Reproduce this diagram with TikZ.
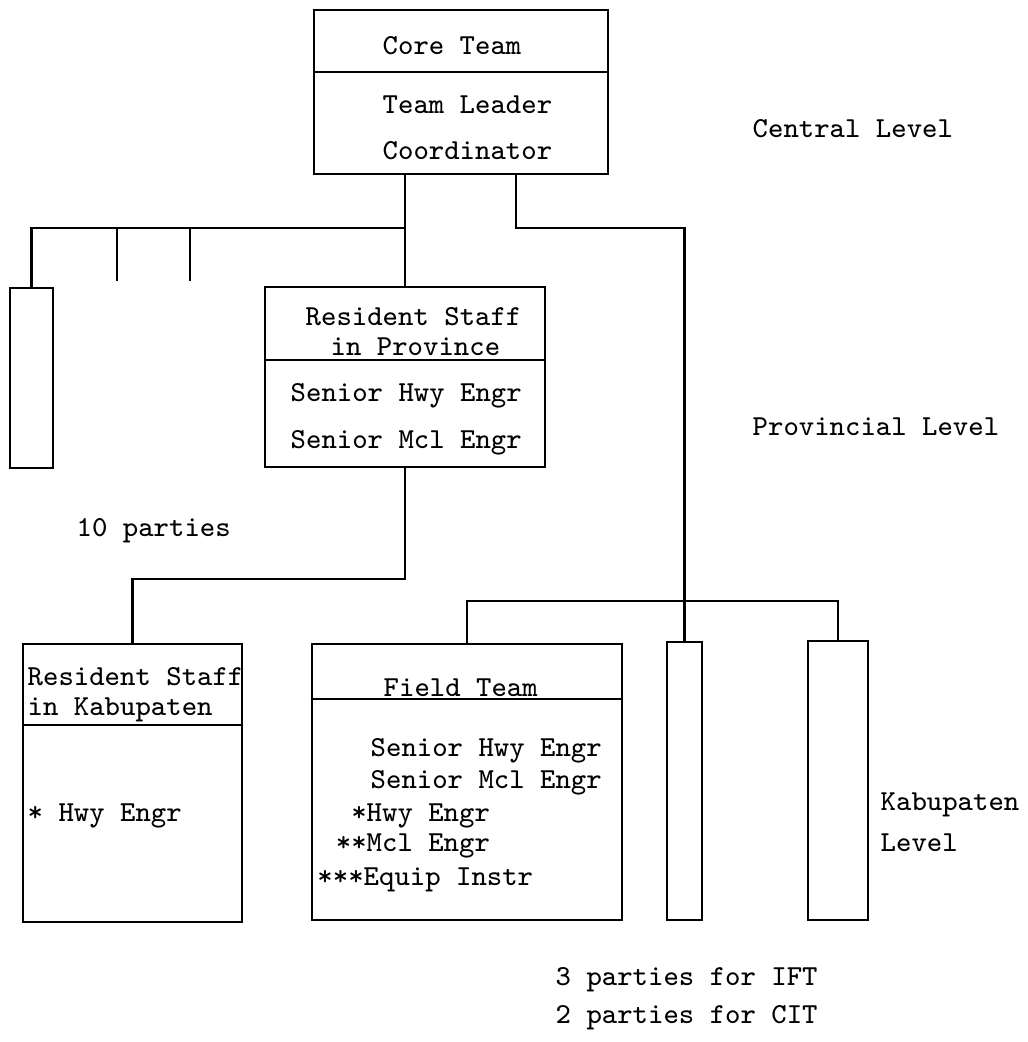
\documentclass[tikz,border=0pt]{standalone}
\usepackage{fontspec}
\usetikzlibrary{calc,positioning}
\tikzset{
  box/.style={draw,line width=0.75pt,inner sep=0pt,minimum width=#1},
  box/.default=1cm,
  lbl/.style={font=\ttfamily\fontsize{8.25}{10}\selectfont,inner sep=0pt,anchor=west,text height=4.9pt,text depth=0pt},
  link/.style={line width=0.75pt},
}

\begin{document}
\begin{tikzpicture}[x=0.01cm,y=-0.01cm]
  \useasboundingbox (0,0) rectangle (1028,1042);
  % central level
  \node[box=2.94cm,minimum height=1.64cm] (core) at (461,92) {};
  \draw[link] (core.west |- 0,72) -- (core.east |- 0,72);
  \node[lbl] (coret) at (382,46) {Core Team};
  \node[lbl] (lead) at (382,105) {Team Leader};
  \node[lbl] (coord) at (382,151) {Coordinator};
  \node[lbl] (lvc) at (752,129) {Central Level};
  % provincial level
  \node[box=2.80cm,minimum height=1.80cm] (prov) at (405,377) {};
  \draw[link] (prov.west |- 0,360) -- (prov.east |- 0,360);
  \node[lbl] (provt) at (305,317) {Resident Staff};
  \node[lbl] (provu) at (330,347) {in Province};
  \node[lbl] (phwy) at (290,393) {Senior Hwy Engr};
  \node[lbl] (pmcl) at (290,440) {Senior Mcl Engr};
  \node[box=0.43cm,minimum height=1.80cm] (grp) at (31.5,378) {};
  \node[lbl] (ten) at (76,528) {10 parties};
  \node[lbl] (lvp) at (752,427) {Provincial Level};
  % kabupaten level
  \node[box=2.19cm,minimum height=2.78cm] (kab) at (132.5,783) {};
  \draw[link] (kab.west |- 0,725) -- (kab.east |- 0,725);
  \node[lbl] (kabt) at (27,677) {Resident Staff};
  \node[lbl] (kabu) at (27,707) {in Kabupaten};
  \node[lbl] (khwy) at (27,813) {* Hwy Engr};
  \node[box=3.10cm,minimum height=2.76cm] (field) at (467,782) {};
  \draw[link] (field.west |- 0,699) -- (field.east |- 0,699);
  \node[lbl] (fieldt) at (383,688) {Field Team};
  \node[lbl] (fshwy) at (370,748) {Senior Hwy Engr};
  \node[lbl] (fsmcl) at (370,780) {Senior Mcl Engr};
  \node[lbl] (fhwy) at (366,813) {\llap{*}Hwy Engr};
  \node[lbl] (fmcl) at (366,843) {\llap{**}Mcl Engr};
  \node[lbl] (fequ) at (363,877) {\llap{***}Equip Instr};
  \node[box=0.35cm,minimum height=2.78cm] (nar) at (684.5,781) {};
  \node[box=0.60cm,minimum height=2.79cm] (rbox) at (838,780.5) {};
  \node[lbl] (lvk) at (880,802) {Kabupaten};
  \node[lbl] (lvk2) at (880,843) {Level};
  \node[lbl] (ift) at (555,977) {3 parties for IFT};
  \node[lbl] (cit) at (555,1015) {2 parties for CIT};
  % links
  \coordinate (hub) at (prov.north |- 0,228);
  \coordinate (stubA) at (117,281);
  \coordinate (stubB) at (190,281);
  \coordinate (drop) at (0,579);
  \coordinate (bus) at (0,601);
  \draw[link] (prov.north |- core.south) -- (prov.north);
  \draw[link] (grp.north) |- (hub);
  \draw[link] (stubA) -- (stubA |- hub); \draw[link] (stubB) -- (stubB |- hub);
  \draw[link] ($(core.south)+(55,0)$) |- (nar.north |- hub) -- (nar.north);
  \draw[link] (prov.south) |- (kab.north |- drop) -- (kab.north);
  \draw[link] (field.north) |- (rbox.north |- bus) -- (rbox.north);
\end{tikzpicture}
\end{document}
